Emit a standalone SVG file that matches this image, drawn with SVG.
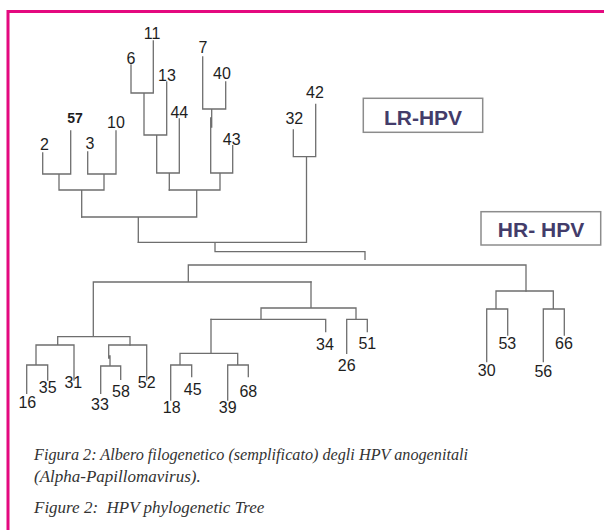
<svg xmlns="http://www.w3.org/2000/svg" width="604" height="530" viewBox="0 0 604 530">
<style>
.frame{stroke:#e4097f;stroke-width:3;fill:none}
.edge{stroke:#6e6e6e;stroke-width:1.3;fill:none;stroke-linecap:square}
.lbl{font-family:"Liberation Sans",Arial,sans-serif;font-size:16px;fill:#1e1e1e;text-anchor:middle}
.lblb{font-family:"Liberation Sans",Arial,sans-serif;font-size:14px;font-weight:bold;fill:#1e1e1e;text-anchor:middle}
.box{fill:#fff;stroke:#8c8c8c;stroke-width:1.5}
.boxt{font-family:"Liberation Sans",Arial,sans-serif;font-size:21px;font-weight:bold;fill:#433c6a;text-anchor:middle}
.cap{font-family:"Liberation Serif","Times New Roman",serif;font-style:italic;font-size:17px;fill:#333}
</style>
<rect width="604" height="530" fill="#fff"/>
<path class="frame" d="M8 530 V11.5 H604"/>
<g id="connectors">
<path class="edge" d="M42.7 153V174M70.7 131V174M42.7 174H70.7M59 174V190M87.7 152V174M116 131V174M87.7 174H116M104 174V190M59 190H104M81.7 190V217"/>
<path class="edge" d="M131 65V93M153.3 41V93M131 93H153.3M144 93V135M166.7 82V135M144 135H166.7M156.7 135V173M179.3 119V173M156.7 173H179.3M169.3 173V190"/>
<path class="edge" d="M202.7 57V109M225.7 82V109M202.7 109H225.7M211.7 109V127M210.7 118V173M232.7 145.7V173M210.7 173H232.7M220 173V190M169.3 190H220M196.7 190V217M81.7 217H196.7M138.3 217V242.3"/>
<path class="edge" d="M293.3 130V156.7M315.7 104.3V156.7M293.3 156.7H315.7M306.5 156.7V242.3M138.3 242.3H306.5M215 242.3V251.7H365V259.3"/>
<path class="edge" d="M188.3 265H526M526 265V291M188.3 265V282M93.3 282H311M93.3 282V336.7M57.7 336.7H130M57.7 336.7V345M130 336.7V345M36 345H74M36 345V365M74 345V380M26.7 365H47.7M26.7 365V393.3M47.7 365V380"/>
<path class="edge" d="M108.7 345H146.7M108.7 345V358M110 356V366M146.7 345V380M100.7 366H120.7M100.7 366V393.3M120.7 366V379.3"/>
<path class="edge" d="M311 282V308M261 308H356M261 308V319.3M356 308V319.3M211 319.3H325.7M325.7 319.3V331.7M346.7 319.3H367.3M346.7 319.3V353.3M367.3 319.3V331.7"/>
<path class="edge" d="M211 319.3V353.3M180 353.3H237.7M180 353.3V365M237.7 353.3V365M170.7 365H191.7M170.7 365V400M191.7 365V376.7M227.7 365H248.3M227.7 365V400M248.3 365V376.7"/>
<path class="edge" d="M496 291H553.3M496 291V309M553.3 291V309M486.7 309H507.7M486.7 309V361.7M507.7 309V335M543.3 309H564.3M543.3 309V361.7M564.3 309V335"/>
</g>
<g id="n2"><text class="lbl" x="44.5" y="150">2</text></g>
<g id="n57"><text class="lblb" x="75" y="122.5">57</text></g>
<g id="n3"><text class="lbl" x="90" y="149">3</text></g>
<g id="n10"><text class="lbl" x="116" y="127.7">10</text></g>
<g id="n6"><text class="lbl" x="131" y="64.3">6</text></g>
<g id="n11"><text class="lbl" x="152" y="39">11</text></g>
<g id="n13"><text class="lbl" x="167" y="80.7">13</text></g>
<g id="n44"><text class="lbl" x="179.3" y="118.3">44</text></g>
<g id="n7"><text class="lbl" x="203" y="52.7">7</text></g>
<g id="n40"><text class="lbl" x="222" y="79.3">40</text></g>
<g id="n43"><text class="lbl" x="231.7" y="145">43</text></g>
<g id="n32"><text class="lbl" x="294.3" y="124.3">32</text></g>
<g id="n42"><text class="lbl" x="315" y="97.7">42</text></g>
<g id="n31"><text class="lbl" x="73.3" y="388.3">31</text></g>
<g id="n16"><text class="lbl" x="27.3" y="408.3">16</text></g>
<g id="n35"><text class="lbl" x="47.7" y="393.3">35</text></g>
<g id="n52"><text class="lbl" x="146.7" y="388">52</text></g>
<g id="n33"><text class="lbl" x="100" y="410">33</text></g>
<g id="n58"><text class="lbl" x="121" y="396.7">58</text></g>
<g id="n18"><text class="lbl" x="171.7" y="412.7">18</text></g>
<g id="n45"><text class="lbl" x="192.7" y="395">45</text></g>
<g id="n39"><text class="lbl" x="227.7" y="413.3">39</text></g>
<g id="n68"><text class="lbl" x="248.3" y="396.7">68</text></g>
<g id="n34"><text class="lbl" x="325" y="350">34</text></g>
<g id="n26"><text class="lbl" x="346.7" y="370.7">26</text></g>
<g id="n51"><text class="lbl" x="367.3" y="349.3">51</text></g>
<g id="n30"><text class="lbl" x="486.7" y="375.7">30</text></g>
<g id="n53"><text class="lbl" x="507.3" y="349.3">53</text></g>
<g id="n56"><text class="lbl" x="543.3" y="377.3">56</text></g>
<g id="n66"><text class="lbl" x="564" y="349.3">66</text></g>
<g id="lr-hpv"><rect class="box" x="363.3" y="98.3" width="119.4" height="34"/><text class="boxt" x="423" y="125">LR-HPV</text></g>
<g id="hr-hpv"><rect class="box" x="481" y="211.7" width="119.7" height="33.3"/><text class="boxt" x="541" y="236.7" xml:space="preserve">HR- HPV</text></g>
<g id="caption">
<text class="cap" x="34" y="460" textLength="434" lengthAdjust="spacingAndGlyphs">Figura 2: Albero filogenetico (semplificato) degli HPV anogenitali</text>
<text class="cap" x="34" y="482">(Alpha-Papillomavirus).</text>
<text class="cap" x="34" y="513" xml:space="preserve">Figure 2:  HPV phylogenetic Tree</text>
</g>
</svg>
